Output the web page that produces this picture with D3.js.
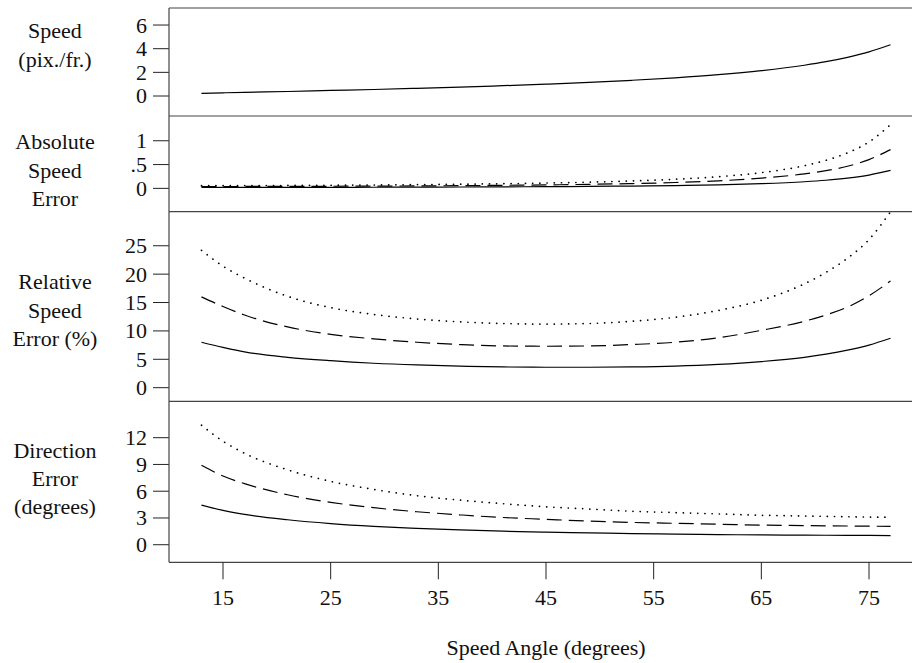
<!DOCTYPE html>
<html>

<head>
  <meta charset="utf-8">
  <title>Speed and direction error vs speed angle</title>
  <style>
    body {
      margin: 0;
      background: #fff;
    }

    svg {
      display: block;
    }

    svg text {
      font-family: "Times New Roman", "Liberation Serif", Times, "DejaVu Serif", serif;
      font-size: 22px;
      fill: #111;
    }

    .frame line {
      stroke: #444;
      stroke-width: 1.2px;
    }

    .tick-line {
      stroke: #222;
      stroke-width: 1px;
    }

    .curve {
      fill: none;
      stroke: #000;
      stroke-width: 1.2px;
    }

    .curve.dotted {
      stroke-width: 1.7px;
    }
  </style>
</head>

<body>
  <svg width="912" height="663"></svg>

  <script src="https://cdnjs.cloudflare.com/ajax/libs/d3/7.8.5/d3.min.js"></script>
  <script>
    var angles = [13, 15, 17, 21, 25, 29, 33, 37, 41, 45, 49, 53, 57, 61, 65, 69, 71, 73, 75, 77];

    // speed (pix./fr.)
    var speed = [0.23, 0.27, 0.31, 0.38, 0.47, 0.55, 0.65, 0.75, 0.87, 1.0, 1.15, 1.33, 1.54, 1.8, 2.14, 2.6, 2.9, 3.27, 3.73, 4.33];

    // absolute speed error
    var absSolid = [0.018, 0.019, 0.020, 0.020, 0.022, 0.024, 0.026, 0.029, 0.032, 0.036, 0.041, 0.049, 0.059, 0.074, 0.098, 0.139, 0.171, 0.216, 0.28, 0.377];
    var absDashed = [0.037, 0.039, 0.040, 0.041, 0.044, 0.047, 0.052, 0.057, 0.064, 0.073, 0.085, 0.101, 0.123, 0.158, 0.216, 0.304, 0.371, 0.464, 0.604, 0.814];
    var absDotted = [0.056, 0.058, 0.060, 0.061, 0.066, 0.071, 0.079, 0.087, 0.098, 0.112, 0.130, 0.156, 0.191, 0.245, 0.33, 0.476, 0.589, 0.746, 0.974, 1.34];

    // relative speed error (%)
    var relSolid = [8.0, 7.1, 6.3, 5.35, 4.75, 4.3, 4.0, 3.8, 3.65, 3.6, 3.6, 3.65, 3.8, 4.1, 4.6, 5.35, 5.9, 6.6, 7.5, 8.7];
    var relDashed = [16.0, 14.3, 12.8, 10.7, 9.4, 8.6, 8.0, 7.6, 7.35, 7.3, 7.35, 7.6, 8.0, 8.8, 10.1, 11.7, 12.8, 14.2, 16.2, 18.8];
    var relDotted = [24.2, 21.4, 19.3, 16.1, 14.1, 12.9, 12.1, 11.6, 11.3, 11.2, 11.3, 11.7, 12.4, 13.6, 15.4, 18.3, 20.3, 22.8, 26.1, 31.0];

    // direction error (degrees)
    var dirSolid = [4.45, 3.85, 3.4, 2.8, 2.37, 2.06, 1.84, 1.66, 1.52, 1.41, 1.33, 1.25, 1.19, 1.14, 1.1, 1.07, 1.06, 1.05, 1.04, 1.03];
    var dirDashed = [8.9, 7.7, 6.85, 5.6, 4.75, 4.15, 3.7, 3.35, 3.05, 2.85, 2.65, 2.5, 2.4, 2.3, 2.2, 2.15, 2.12, 2.1, 2.08, 2.06];
    var dirDotted = [13.4, 11.6, 10.25, 8.4, 7.1, 6.2, 5.5, 5.0, 4.6, 4.25, 4.0, 3.75, 3.6, 3.45, 3.3, 3.22, 3.18, 3.14, 3.1, 3.08];

    // tick labels
    var xTicks = [15, 25, 35, 45, 55, 65, 75];
    var speedTicks = [0, 2, 4, 6];
    var absTicks = [0, 0.5, 1];
    var absTickLabels = ['0', '.5', '1'];
    var relTicks = [0, 5, 10, 15, 20, 25];
    var dirTicks = [0, 3, 6, 9, 12];

    var svg = d3.select('svg');

    var left = 169;
    var right = 913;

    var x = d3.scaleLinear()
      .domain([15, 75])
      .range([223, 869]);

    var DASHED = '15,7';
    var DOTTED = '0.1,7.1';

    // one entry per stacked panel
    var panels = [
      { top: 8, bottom: 116, domain: [-1.69, 7.44], ticks: speedTicks, labels: null,
        title: ['Speed', '(pix./fr.)'], series: [{ values: speed, dash: null }] },
      { top: 116, bottom: 211.7, domain: [-0.49, 1.52], ticks: absTicks, labels: absTickLabels,
        title: ['Absolute', 'Speed', 'Error'],
        series: [{ values: absSolid, dash: null }, { values: absDashed, dash: DASHED }, { values: absDotted, dash: DOTTED }] },
      { top: 211.7, bottom: 401.3, domain: [-2.4, 31.0], ticks: relTicks, labels: null,
        title: ['Relative', 'Speed', 'Error (%)'],
        series: [{ values: relSolid, dash: null }, { values: relDashed, dash: DASHED }, { values: relDotted, dash: DOTTED }] },
      { top: 401.3, bottom: 562.3, domain: [-1.97, 16.08], ticks: dirTicks, labels: null,
        title: ['Direction', 'Error', '(degrees)'],
        series: [{ values: dirSolid, dash: null }, { values: dirDashed, dash: DASHED }, { values: dirDotted, dash: DOTTED }] }
    ];

    var titleCenters = [45.8, 171, 311, 479.5];

    panels.forEach(function(p, i) {
      var y = d3.scaleLinear()
        .domain(p.domain)
        .range([p.bottom, p.top]);

      var g = svg.append('g');

      // clip each panel so curves stay inside its box
      svg.append('clipPath')
        .attr('id', 'clip' + i)
        .append('rect')
        .attr('x', left)
        .attr('y', p.top)
        .attr('width', right - left)
        .attr('height', p.bottom - p.top);

      var line = d3.line()
        .x(function(d) { return x(d[0]); })
        .y(function(d) { return y(d[1]); })
        .curve(d3.curveMonotoneX);

      p.series.forEach(function(s) {
        g.append('path')
          .datum(angles.map(function(a, k) { return [a, s.values[k]]; }))
          .attr('class', s.dash === DOTTED ? 'curve dotted' : 'curve')
          .attr('clip-path', 'url(#clip' + i + ')')
          .attr('stroke-dasharray', s.dash)
          .attr('stroke-linecap', s.dash === DOTTED ? 'round' : 'butt')
          .attr('d', line);
      });

      // y ticks
      g.selectAll('.tick-line')
        .data(p.ticks)
        .enter().append('line')
        .attr('class', 'tick-line')
        .attr('x1', left - 16)
        .attr('x2', left)
        .attr('y1', function(d) { return y(d); })
        .attr('y2', function(d) { return y(d); });

      g.selectAll('.tick-label')
        .data(p.ticks)
        .enter().append('text')
        .attr('class', 'tick-label')
        .attr('x', left - 22)
        .attr('y', function(d) { return y(d); })
        .attr('dy', '0.34em')
        .attr('text-anchor', 'end')
        .text(function(d, k) { return p.labels ? p.labels[k] : d; });

      // panel title, several lines centred on the left
      var n = p.title.length;
      g.selectAll('.panel-title')
        .data(p.title)
        .enter().append('text')
        .attr('class', 'panel-title')
        .attr('x', 55)
        .attr('y', function(d, k) { return titleCenters[i] + (k - (n - 1) / 2) * 28.3; })
        .attr('dy', '0.3em')
        .attr('text-anchor', 'middle')
        .text(function(d) { return d; });
    });

    // frame: left edge and the horizontal panel borders
    var frame = svg.append('g').attr('class', 'frame');
    frame.append('line')
      .attr('x1', left).attr('x2', left)
      .attr('y1', panels[0].top).attr('y2', panels[3].bottom);

    var borders = [panels[0].top].concat(panels.map(function(p) { return p.bottom; }));
    frame.selectAll('.border')
      .data(borders)
      .enter().append('line')
      .attr('class', 'border')
      .attr('x1', left).attr('x2', right)
      .attr('y1', function(d) { return d; })
      .attr('y2', function(d) { return d; });

    // x axis ticks below the bottom panel
    var bottom = panels[3].bottom;
    svg.selectAll('.x-tick')
      .data(xTicks)
      .enter().append('line')
      .attr('class', 'tick-line x-tick')
      .attr('x1', function(d) { return x(d); })
      .attr('x2', function(d) { return x(d); })
      .attr('y1', bottom)
      .attr('y2', bottom + 17);

    svg.selectAll('.x-label')
      .data(xTicks)
      .enter().append('text')
      .attr('class', 'x-label')
      .attr('x', function(d) { return x(d); })
      .attr('y', 597.5)
      .attr('dy', '0.34em')
      .attr('text-anchor', 'middle')
      .text(function(d) { return d; });

    svg.append('text')
      .attr('x', 546)
      .attr('y', 648)
      .attr('dy', '0.3em')
      .attr('text-anchor', 'middle')
      .text('Speed Angle (degrees)');
  </script>
</body>

</html>
